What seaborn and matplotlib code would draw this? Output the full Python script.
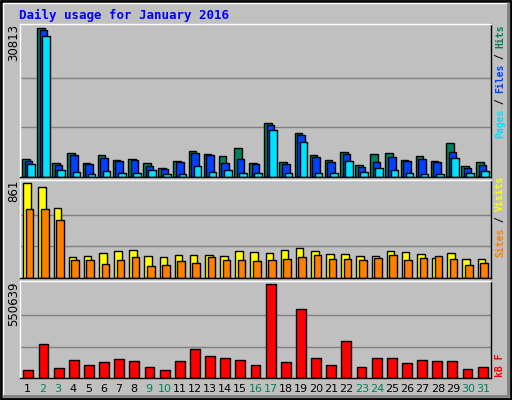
import numpy as np, pandas as pd
import matplotlib
matplotlib.use("Agg")
import matplotlib.pyplot as plt
import seaborn as sns

days = list(range(1, 32))
hits = [3830,30813,3000,4880,3000,4530,3625,3830,3000,1950,3415,5370,4670,4320,6000,3000,11150,3200,9060,4460,3625,5090,2580,4670,4880,3625,4320,3415,6970,2370,3200]
files = [3415,30400,2580,4460,2790,4040,3415,3625,2370,1740,3200,4880,4460,3000,3830,2790,10875,2790,8640,4250,3200,4670,2160,3200,4250,3415,3830,3200,5090,1950,2580]
pages = [2790,29350,1530,1115,700,1325,900,900,1530,700,700,2370,1115,1530,900,900,9690,900,7180,900,900,3415,1115,1950,1530,900,700,700,4040,900,1325]
visits = [861,824,636,187,197,225,243,253,197,187,206,206,206,197,243,234,225,253,271,243,215,215,197,197,243,234,215,178,225,168,168]
sites = [627,627,524,159,159,131,159,187,112,122,150,140,187,159,159,150,159,168,187,206,168,168,159,178,206,159,178,197,168,122,140]
kbytes = [44200,201000,56300,104500,74400,92400,110500,98500,62300,44200,98500,170800,128600,116600,104500,74400,550639,92400,406000,116600,74400,219000,62300,116600,116600,86400,104500,98500,98500,50200,62300]
weekend = [2,3,9,10,16,17,23,24,30,31]

C_HITS, C_FILES, C_PAGES = "#00805C", "#0040FF", "#00E0FF"
C_VIS, C_SITES, C_KB = "#FFFF00", "#FF8000", "#FF0000"
BG = "#C0C0C0"

sns.set_style("white")
plt.rcParams['font.family'] = ['DejaVu Sans Mono', 'DejaVu Sans']
fig = plt.figure(figsize=(5.12, 4.0), dpi=100, facecolor=BG)
W, H = 512, 400
def axpx(x0, y0, x1, y1):
    return fig.add_axes([x0/W, 1-y1/H, (x1-x0)/W, (y1-y0)/H])

def panel(ax, series, maxv):
    ax.set_facecolor(BG)
    n = len(series)
    offs = [-0.17*(n-1)/2 + 0.17*i for i in range(n)] if n > 1 else [0]
    for (vals, col), off in zip(series, offs):
        df = pd.DataFrame({"x": [d + off for d in days], "y": vals})
        sns.barplot(data=df, x="x", y="y", native_scale=True, color=col,
                    saturation=1, width=0.5 if n > 1 else 0.65,
                    edgecolor="black", linewidth=1, ax=ax)
    ax.set_xlim(0.45, 31.55)
    ax.set_ylim(0, maxv*1.03)
    for g in (maxv/3, 2*maxv/3):
        ax.axhline(g, color="#808080", lw=1, zorder=0)
    ax.set_xticks([]); ax.set_yticks([])
    ax.set_xlabel(""); ax.set_ylabel("")
    for s in ("bottom", "right"):
        ax.spines[s].set_color("black")
    for s in ("top", "left"):
        ax.spines[s].set_color("white")
    for s in ax.spines.values():
        s.set_linewidth(1)
    ax.text(-0.013, 1.0, str(maxv), transform=ax.transAxes, rotation=90,
            ha="center", va="top", fontsize=8.5, color="black", family="DejaVu Sans")

ax1 = axpx(20, 24, 491, 177)
ax2 = axpx(20, 180, 491, 278)
ax3 = axpx(20, 281, 491, 378)
panel(ax1, [(hits, C_HITS), (files, C_FILES), (pages, C_PAGES)], 30813)
panel(ax2, [(visits, C_VIS), (sites, C_SITES)], 861)
panel(ax3, [(kbytes, C_KB)], 550639)

def rlabel(parts, ybottom, ch):
    y = ybottom
    for txt, col in parts:
        fig.text(500/W, 1-y/H, txt, rotation=90, ha="center", va="bottom",
                 fontsize=7, color=col, fontweight="bold")
        y -= ch*len(txt)
rlabel([("Pages", C_PAGES), (" / ", "black"), ("Files", C_FILES), (" / ", "black"), ("Hits", C_HITS)], 138, 5.6)
rlabel([("Sites", C_SITES), (" / ", "black"), ("Visits", C_VIS)], 257, 5.8)
rlabel([("kB F", C_KB)], 377, 5.8)

for i, d in enumerate(days):
    x = 20 + (i + 0.5) * 471/31
    fig.text(x/W, 1-389/H, str(d), ha="center", va="center", fontsize=8,
             color=C_HITS if d in weekend else "black", family="DejaVu Sans")

fig.text(19/W, 1-15/H, "Daily usage for January 2016", ha="left", va="center",
         fontsize=9, color="#0000FF", fontweight="bold")

fr = fig.add_axes([0, 0, 1, 1], facecolor="none", zorder=-1)
fr.set_xlim(0, W); fr.set_ylim(H, 0); fr.axis("off")
fr.plot([1, W-1, W-1, 1, 1], [1, 1, H-1, H-1, 1], color="black", lw=2)
fr.plot([3, 3, W-4], [H-4, 3, 3], color="white", lw=1)
fr.plot([3, W-4, W-4], [H-4, H-4, 3], color="#808080", lw=2)

fig.savefig("out.png", dpi=100, facecolor=BG)
